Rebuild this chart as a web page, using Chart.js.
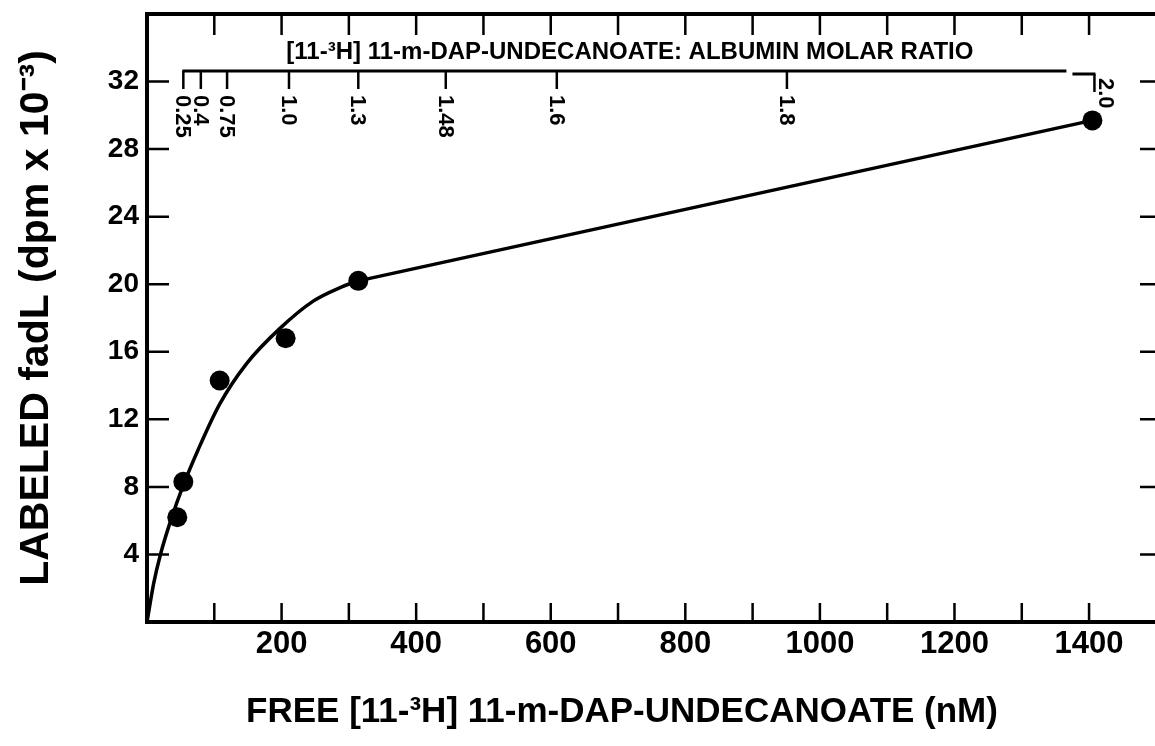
<!DOCTYPE html>
<html>
<head>
<meta charset="utf-8">
<title>fadL binding</title>
<script src="https://cdn.jsdelivr.net/npm/chart.js@4.4.1/dist/chart.umd.min.js"></script>
<style>
  html, body { margin: 0; padding: 0; background: #fff; }
</style>
</head>
<body>
<canvas id="bindingChart" width="1155" height="746"></canvas>
<script>
// measured binding: free ligand (nM) vs labeled fadL (dpm x 10^-3)
var freeConc = [45, 54, 108, 206, 314, 1405];
var boundDpm = [6.2, 8.3, 14.3, 16.8, 20.2, 29.7];

// drawn saturation curve up to the 1.3 ratio point, then the straight run to 2.0
var curveConc = [0, 10, 20, 36, 52, 76, 108, 148, 198, 247, 287, 314];
var curveDpm  = [0, 2.3, 4.0, 6.1, 7.9, 10.2, 12.9, 15.3, 17.4, 19.0, 19.8, 20.2];
var lineConc = [314, 1405];
var lineDpm  = [20.2, 29.7];

// upper scale: ligand:albumin molar ratio at the matching free concentration
var ratioLabels = ['0.25', '0.4', '0.75', '1.0', '1.3', '1.48', '1.6', '1.8', '2.0'];
var ratioAtConc = [54, 80, 119, 211, 314, 444, 609, 951, 1408];

// tick marks and the ones that carry a label
var xTickMarks = [100, 200, 300, 400, 500, 600, 700, 800, 900, 1000, 1100, 1200, 1300, 1400];
var xTickLabels = [200, 400, 600, 800, 1000, 1200, 1400];
var yTickMarks = [4, 8, 12, 16, 20, 24, 28, 32];
var yTickLabels = [4, 8, 12, 16, 20, 24, 28, 32];

var FONT = '"Liberation Sans", Arial, Helvetica, sans-serif';

function toPoints(xs, ys) {
  return xs.map(function (x, i) { return { x: x, y: ys[i] }; });
}

// inward tick marks on all four sides, top frame line and the molar ratio scale
var frameAndRatio = {
  id: 'frameAndRatio',
  afterDatasetsDraw: function (chart) {
    var ctx = chart.ctx;
    var a = chart.chartArea;
    var xs = chart.scales.x;
    var ys = chart.scales.y;

    ctx.save();
    ctx.strokeStyle = '#000';
    ctx.fillStyle = '#000';

    ctx.lineWidth = 4;
    ctx.beginPath();
    ctx.moveTo(a.left - 2, a.top);
    ctx.lineTo(a.right, a.top);
    ctx.stroke();

    ctx.lineWidth = 2.5;
    xs.ticks.forEach(function (t) {
      var px = xs.getPixelForValue(t.value);
      ctx.beginPath();
      ctx.moveTo(px, a.bottom);
      ctx.lineTo(px, a.bottom - 19);
      ctx.moveTo(px, a.top);
      ctx.lineTo(px, a.top + 21);
      ctx.stroke();
    });
    ys.ticks.forEach(function (t) {
      var py = ys.getPixelForValue(t.value);
      ctx.beginPath();
      ctx.moveTo(a.left, py);
      ctx.lineTo(a.left + 22, py);
      ctx.moveTo(a.right, py);
      ctx.lineTo(a.right - 15, py);
      ctx.stroke();
    });

    // molar ratio scale, broken just before 2.0
    var rY = a.top + 57;
    var n = ratioAtConc.length - 1;
    var first = xs.getPixelForValue(ratioAtConc[0]);
    var last = xs.getPixelForValue(ratioAtConc[n]);
    ctx.lineWidth = 3;
    ctx.beginPath();
    ctx.moveTo(first - 1, rY);
    ctx.lineTo(last - 28, rY);
    ctx.moveTo(last - 22, rY + 3);
    ctx.lineTo(last + 1, rY + 3);
    ctx.stroke();

    ctx.lineWidth = 2.5;
    ctx.font = 'bold 22px ' + FONT;
    ctx.textAlign = 'left';
    ctx.textBaseline = 'middle';
    ratioAtConc.forEach(function (c, i) {
      var px = xs.getPixelForValue(c);
      var y0 = (i === n) ? rY + 3 : rY;
      ctx.beginPath();
      ctx.moveTo(px, y0);
      ctx.lineTo(px, y0 + 18);
      ctx.stroke();
      ctx.save();
      // the last label sits beside its tick, clear of the point below
      if (i === n) ctx.translate(px + 11, y0 + 4);
      else ctx.translate(px - 1, y0 + 24);
      ctx.rotate(Math.PI / 2);
      ctx.fillText(ratioLabels[i], 0, 0);
      ctx.restore();
    });

    ctx.font = 'bold 24px ' + FONT;
    ctx.textAlign = 'center';
    ctx.fillText('[11-\u00B3H] 11-m-DAP-UNDECANOATE: ALBUMIN MOLAR RATIO', (first + last) / 2 - 9, a.top + 38);

    // x axis title
    ctx.font = 'bold 35px ' + FONT;
    ctx.fillText('FREE [11-\u00B3H] 11-m-DAP-UNDECANOATE (nM)', (a.left + a.right) / 2 - 29, 712);
    ctx.restore();
  }
};

var ctx = document.getElementById('bindingChart').getContext('2d');
var bindingChart = new Chart(ctx, {
  type: 'scatter',
  data: {
    datasets: [
      {
        label: 'fit',
        data: toPoints(curveConc, curveDpm),
        showLine: true,
        borderColor: '#000',
        borderWidth: 3.5,
        pointRadius: 0,
        cubicInterpolationMode: 'monotone',
        order: 3
      },
      {
        label: 'fit, upper run',
        data: toPoints(lineConc, lineDpm),
        showLine: true,
        borderColor: '#000',
        borderWidth: 3.5,
        pointRadius: 0,
        order: 2
      },
      {
        label: 'fadL',
        data: toPoints(freeConc, boundDpm),
        backgroundColor: '#000',
        borderWidth: 0,
        pointRadius: 10,
        order: 1
      }
    ]
  },
  options: {
    responsive: false,
    animation: false,
    layout: { autoPadding: false, padding: { left: 0, top: 14, right: 0, bottom: 0 } },
    plugins: {
      legend: { display: false },
      tooltip: { enabled: false }
    },
    scales: {
      x: {
        type: 'linear',
        min: 0,
        max: 1498,
        afterBuildTicks: function (s) {
          s.ticks = xTickMarks.map(function (v) { return { value: v }; });
        },
        afterFit: function (s) {
          s.height = 124;
          s.paddingLeft = 0;
          s.paddingRight = 0;
        },
        grid: { display: false, drawTicks: false },
        border: { display: true, color: '#000', width: 4 },
        ticks: {
          autoSkip: false,
          maxRotation: 0,
          padding: 4,
          color: '#000',
          font: { family: FONT, size: 31, weight: 'bold' },
          callback: function (v) { return xTickLabels.indexOf(v) >= 0 ? String(v) : ''; }
        }
      },
      y: {
        min: 0,
        max: 36,
        afterBuildTicks: function (s) {
          s.ticks = yTickMarks.map(function (v) { return { value: v }; });
        },
        afterFit: function (s) {
          s.width = 147;
          s.paddingTop = 0;
          s.paddingBottom = 0;
        },
        grid: { display: false, drawTicks: false },
        border: { display: true, color: '#000', width: 4 },
        ticks: {
          autoSkip: false,
          padding: 8,
          color: '#000',
          font: { family: FONT, size: 28, weight: 'bold' },
          callback: function (v) { return yTickLabels.indexOf(v) >= 0 ? String(v) : ''; }
        },
        title: {
          display: true,
          text: 'LABELED fadL (dpm x 10\u207B\u00B3)',
          color: '#000',
          padding: { top: 12, bottom: 0 },
          font: { family: FONT, size: 41, weight: 'bold' }
        }
      }
    }
  },
  plugins: [frameAndRatio]
});
</script>
</body>
</html>
